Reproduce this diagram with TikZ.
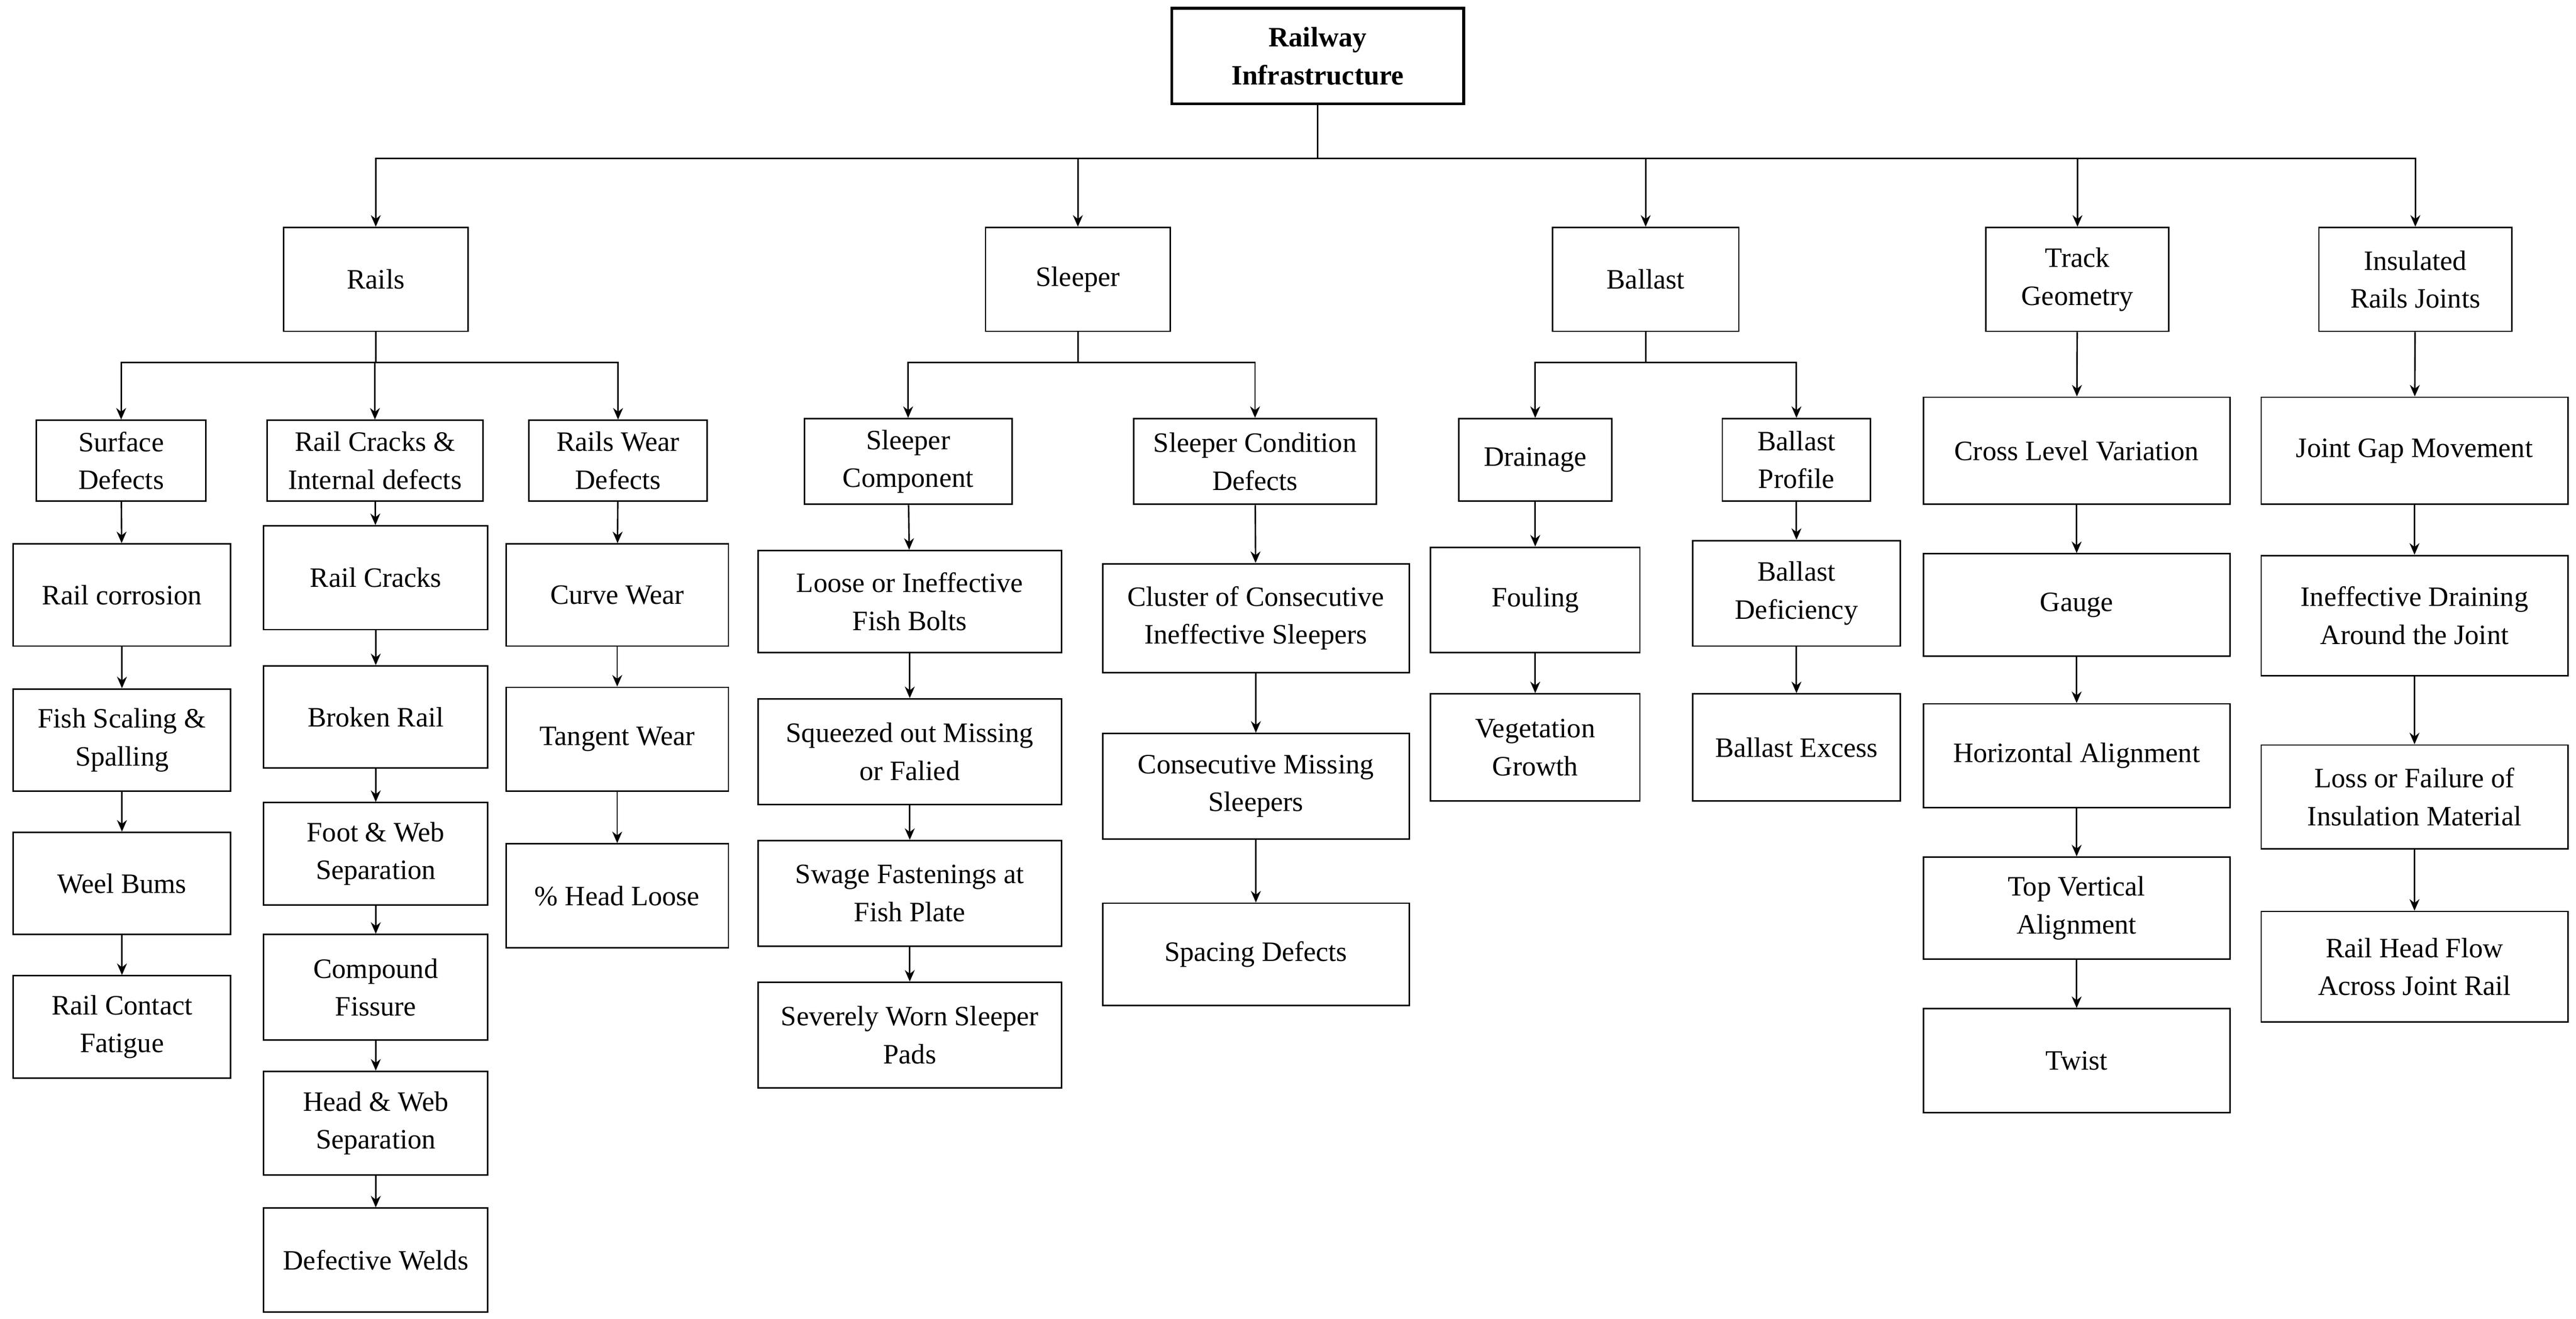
\documentclass[tikz,border=0pt]{standalone}
\usepackage{fontspec}
\setmainfont{Liberation Serif}
\usetikzlibrary{arrows.meta}
\begin{document}
\begin{tikzpicture}[x=1pt,y=-1pt,
  box/.style={draw,line width=0.9pt,align=center,inner sep=1pt,font=\fontsize{17}{23}\selectfont},
  arr/.style={line width=0.9pt,-{Stealth[length=7pt,width=6pt]}},
  ln/.style={line width=0.9pt}]
\useasboundingbox (0,0) rectangle (1563,800);
\newcommand\bx[6]{\node[box,minimum width={(#4-#2)*1pt},minimum height={(#5-#3)*1pt}] (#1) at ({(#2+#4)/2},{(#3+#5)/2}) {#6};}
\node[box,line width=1.8pt,font=\fontsize{17}{23}\selectfont\bfseries,minimum width=177pt,minimum height=58pt] (root) at (799.5,34) {Railway\\Infrastructure};
\bx{rails}{172}{138}{284}{201}{Rails}
\bx{sleeper}{598}{138}{710}{201}{Sleeper}
\bx{ballast}{942}{138}{1055}{201}{Ballast}
\bx{tg}{1205}{138}{1316}{201}{Track\\Geometry}
\bx{irj}{1407}{138}{1524}{201}{Insulated\\Rails Joints}
% rails
\bx{sd}{22}{255}{125}{304}{Surface\\Defects}
\bx{rc}{162}{255}{293}{304}{Rail Cracks \&\\Internal defects}
\bx{rw}{321}{255}{429}{304}{Rails Wear\\Defects}
\bx{a1}{8}{330}{140}{392}{Rail corrosion}
\bx{a2}{8}{418}{140}{480}{Fish Scaling \&\\Spalling}
\bx{a3}{8}{505}{140}{567}{Weel Bums}
\bx{a4}{8}{592}{140}{654}{Rail Contact\\Fatigue}
\bx{b1}{160}{319}{296}{382}{Rail Cracks}
\bx{b2}{160}{404}{296}{466}{Broken Rail}
\bx{b3}{160}{487}{296}{549}{Foot \& Web\\Separation}
\bx{b4}{160}{567}{296}{631}{Compound\\Fissure}
\bx{b5}{160}{650}{296}{713}{Head \& Web\\Separation}
\bx{b6}{160}{733}{296}{796}{Defective Welds}
\bx{c1}{307}{330}{442}{392}{Curve Wear}
\bx{c2}{307}{417}{442}{480}{Tangent Wear}
\bx{c3}{307}{512}{442}{575}{\% Head Loose}
% sleeper
\bx{sc}{488}{254}{614}{306}{Sleeper\\Component}
\bx{scd}{688}{254}{835}{306}{Sleeper Condition\\Defects}
\bx{d1}{460}{334}{644}{396}{Loose or Ineffective\\Fish Bolts}
\bx{d2}{460}{424}{644}{488}{Squeezed out Missing\\or Falied}
\bx{d3}{460}{510}{644}{574}{Swage Fastenings at\\Fish Plate}
\bx{d4}{460}{596}{644}{660}{Severely Worn Sleeper\\Pads}
\bx{e1}{669}{342}{855}{408}{Cluster of Consecutive\\Ineffective Sleepers}
\bx{e2}{669}{445}{855}{509}{Consecutive Missing\\Sleepers}
\bx{e3}{669}{548}{855}{610}{Spacing Defects}
% ballast
\bx{dr}{885}{254}{978}{304}{Drainage}
\bx{bp}{1045}{254}{1135}{304}{Ballast\\Profile}
\bx{f1}{868}{332}{995}{396}{Fouling}
\bx{f2}{868}{421}{995}{486}{Vegetation\\Growth}
\bx{g1}{1027}{328}{1153}{392}{Ballast\\Deficiency}
\bx{g2}{1027}{421}{1153}{486}{Ballast Excess}
% track geometry
\bx{h1}{1167}{241}{1353}{306}{Cross Level Variation}
\bx{h2}{1167}{336}{1353}{398}{Gauge}
\bx{h3}{1167}{427}{1353}{490}{Horizontal Alignment}
\bx{h4}{1167}{520}{1353}{582}{Top Vertical\\Alignment}
\bx{h5}{1167}{612}{1353}{675}{Twist}
% insulated
\bx{i1}{1372}{241}{1558}{306}{Joint Gap Movement}
\bx{i2}{1372}{337}{1558}{410}{Ineffective Draining\\Around the Joint}
\bx{i3}{1372}{452}{1558}{515}{Loss or Failure of\\Insulation Material}
\bx{i4}{1372}{553}{1558}{620}{Rail Head Flow\\Across Joint Rail}
% connectors
\draw[ln] (root.south) -- (root.south |- 0,96) coordinate (bus);
\foreach \n in {rails,sleeper,ballast,tg,irj} \draw[arr] (bus) -| (\n.north);
\foreach \p/\l in {rails/{sd,rc,rw},sleeper/{sc,scd},ballast/{dr,bp}}{
  \draw[ln] (\p.south) -- (\p.south |- 0,220) coordinate (j);
  \foreach \c in \l \draw[arr] (j) -| (\c.north);}
\draw[arr] (tg) -- (h1);
\draw[arr] (irj) -- (i1);
\foreach \a/\b in {sd/a1,a1/a2,a2/a3,a3/a4,rc/b1,b1/b2,b2/b3,b3/b4,b4/b5,b5/b6,rw/c1,c1/c2,c2/c3,
  sc/d1,d1/d2,d2/d3,d3/d4,scd/e1,e1/e2,e2/e3,dr/f1,f1/f2,bp/g1,g1/g2,
  h1/h2,h2/h3,h3/h4,h4/h5,i1/i2,i2/i3,i3/i4}
  \draw[arr] (\a) -- (\b);
\end{tikzpicture}
\end{document}
